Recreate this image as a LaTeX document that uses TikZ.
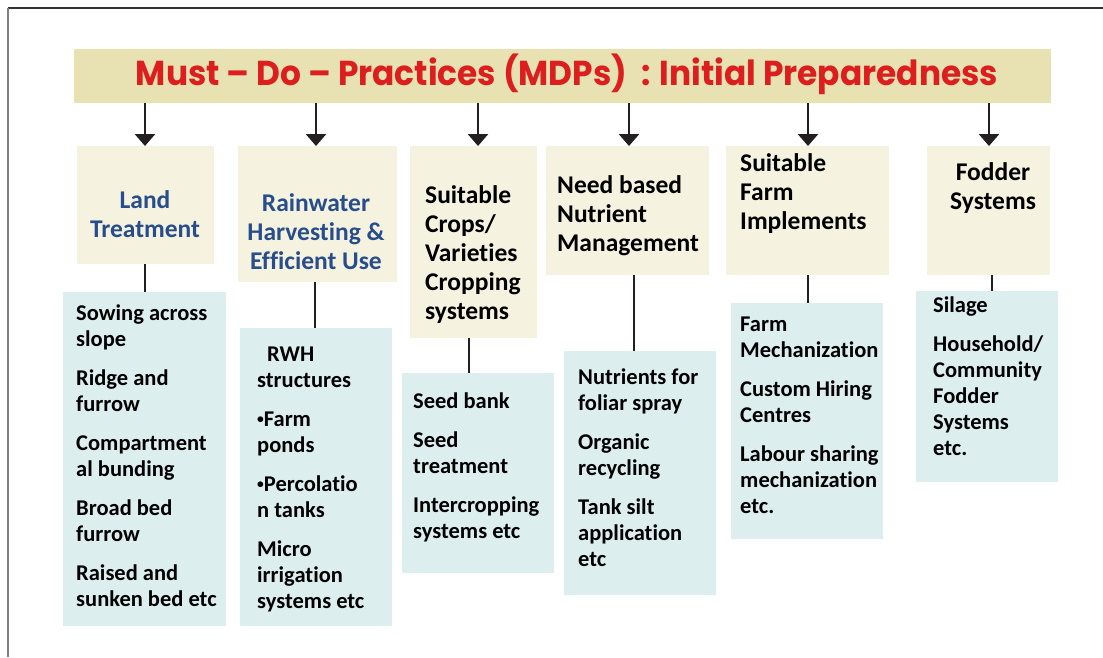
\documentclass[tikz,border=0pt]{standalone}
\usepackage{fontspec}
\usepackage{graphicx}
\setmainfont{Carlito}[Ligatures=NoCommon]
\newfontfamily\titlefont{Poppins}
\usetikzlibrary{arrows.meta}
\definecolor{titlebg}{RGB}{232,225,178}
\definecolor{creambg}{RGB}{245,243,224}
\definecolor{bluebg}{RGB}{221,238,238}
\definecolor{titlered}{RGB}{220,30,30}
\definecolor{headblue}{RGB}{40,77,140}
\definecolor{lineclr}{RGB}{35,31,32}
\newsavebox\titlebox
\newlength\titlecap
\newcommand\firstbody{\rule{0pt}{18pt}}
\newcommand\firsthead{\rule{0pt}{20.5pt}}
\newcommand\smallbul{\raisebox{3.2pt}{\scalebox{0.6}{•}}}
\tikzset{
  panel/.style={draw=none, inner sep=0, anchor=north west},
  creambox/.style={panel, fill=creambg},
  bluebox/.style={panel, fill=bluebg},
  bodytxt/.style={inner sep=0, anchor=north west, align=left,
    font=\fontsize{22.5}{26}\selectfont\bfseries, text=black},
  headtxt/.style={inner sep=0, align=left,
    font=\fontsize{25.5}{29}\selectfont\bfseries, text=black},
  arr/.style={line width=2.8pt, color=lineclr, -{Triangle[width=20pt,length=12pt]}},
  link/.style={line width=2.8pt, color=lineclr}
}
\begin{document}
\begin{tikzpicture}[x=1pt,y=-1pt]
\useasboundingbox (0,0) rectangle (1103,657);
\fill[white] (0,0) rectangle (1103,657);
% frame
\draw[line width=1.6pt, color=black!80] (8,8) -- (1103,8);
\draw[line width=1.3pt, color=black!50] (8,8) -- (8,657);

% title
\node[panel, fill=titlebg, minimum width=977, minimum height=54] (title) at (74,49) {};
\node[anchor=base, inner sep=0, text=titlered] (ttext) at (567,85)
  {\titlefont\bfseries\sbox\titlebox{Must – Do – Practices (MDPs)\ \ : Initial Preparedness}%
   \settoheight\titlecap{M}%
   \resizebox{862pt}{\dimexpr 24.3pt*\number\ht\titlebox/\number\titlecap\relax}{\usebox\titlebox}};

% cream boxes
\node[creambox, minimum width=137, minimum height=118] (c1) at (77,146) {};
\node[creambox, minimum width=159, minimum height=136] (c2) at (238,146) {};
\node[creambox, minimum width=127, minimum height=192] (c3) at (410,146) {};
\node[creambox, minimum width=163, minimum height=129] (c4) at (546,146) {};
\node[creambox, minimum width=163, minimum height=129] (c5) at (726,146) {};
\node[creambox, minimum width=123, minimum height=129] (c6) at (927,146) {};

% blue boxes
\node[bluebox, minimum width=163, minimum height=334] (b1) at (63,292) {};
\node[bluebox, minimum width=152, minimum height=298] (b2) at (240,328) {};
\node[bluebox, minimum width=152, minimum height=200] (b3) at (402,373) {};
\node[bluebox, minimum width=152, minimum height=244] (b4) at (564,351) {};
\node[bluebox, minimum width=152, minimum height=236] (b5) at (731,303) {};
\node[bluebox, minimum width=142, minimum height=191] (b6) at (916,291) {};

% arrows from title
\draw[arr] (title.south -| 145,0) -- (c1.north -| 145,0);
\draw[arr] (title.south -| 316,0) -- (c2.north -| 316,0);
\draw[arr] (title.south -| 478,0) -- (c3.north -| 478,0);
\draw[arr] (title.south -| 629,0) -- (c4.north -| 629,0);
\draw[arr] (title.south -| 808,0) -- (c5.north -| 808,0);
\draw[arr] (title.south -| 989,0) -- (c6.north -| 989,0);

% links
\draw[link] (c1.south -| 145,0) -- (b1.north -| 145,0);
\draw[link] (c2.south -| 315,0) -- (b2.north -| 315,0);
\draw[link] (c3.south -| 469,0) -- (b3.north -| 469,0);
\draw[link] (c4.south -| 634,0) -- (b4.north -| 634,0);
\draw[link] (c5.south -| 808,0) -- (b5.north -| 808,0);
\draw[link] (c6.south -| 992,0) -- (b6.north -| 992,0);

% headings
\node[headtxt, align=center, anchor=north, text=headblue] (h1) at (145,187.5)
  {\firsthead Land\\ Treatment};
\node[headtxt, align=center, anchor=north, text=headblue] (h2) at (316,190.5)
  {\firsthead Rainwater\\ Harvesting \&\\ Efficient Use};
\node[headtxt, anchor=north west] (h3) at (425,182.5)
  {\firsthead Suitable\\ Crops/\\ Varieties\\ Cropping\\ systems};
\node[headtxt, anchor=north west] (h4) at (557,172.5)
  {\firsthead Need based\\ Nutrient\\ Management};
\node[headtxt, anchor=north west] (h5) at (740,150.5)
  {\firsthead Suitable\\ Farm\\ Implements};
\node[headtxt, align=center, anchor=north] (h6) at (993,159.5)
  {\firsthead Fodder\\ Systems};

% body texts
\node[bodytxt] (t1) at (76,302)
  {\firstbody Sowing across\\ slope\\[13pt] Ridge and\\ furrow\\[13pt] Compartment\\ al bunding\\[13pt] Broad bed\\ furrow\\[13pt] Raised and\\ sunken bed etc};
\node[bodytxt] (t2) at (257,343)
  {\firstbody\hspace*{10pt}RWH\\ structures\\[13pt] \smallbul Farm\\ ponds\\[13pt] \smallbul Percolatio\\ n tanks\\[13pt] Micro\\ irrigation\\ systems etc};
\node[bodytxt] (t3) at (413,390)
  {\firstbody Seed bank\\[13pt] Seed\\ treatment\\[13pt] Intercropping\\ systems etc};
\node[bodytxt] (t4) at (578,366)
  {\firstbody Nutrients for\\ foliar spray\\[13pt] Organic\\ recycling\\[13pt] Tank silt\\ application\\ etc};
\node[bodytxt] (t5) at (740,313)
  {\firstbody Farm\\ Mechanization\\[13pt] Custom Hiring\\ Centres\\[13pt] Labour sharing\\ mechanization\\ etc.};
\node[bodytxt] (t6) at (933,294)
  {\firstbody Silage\\[13pt] Household/\\ Community\\ Fodder\\ Systems\\ etc.};
\end{tikzpicture}
\end{document}
